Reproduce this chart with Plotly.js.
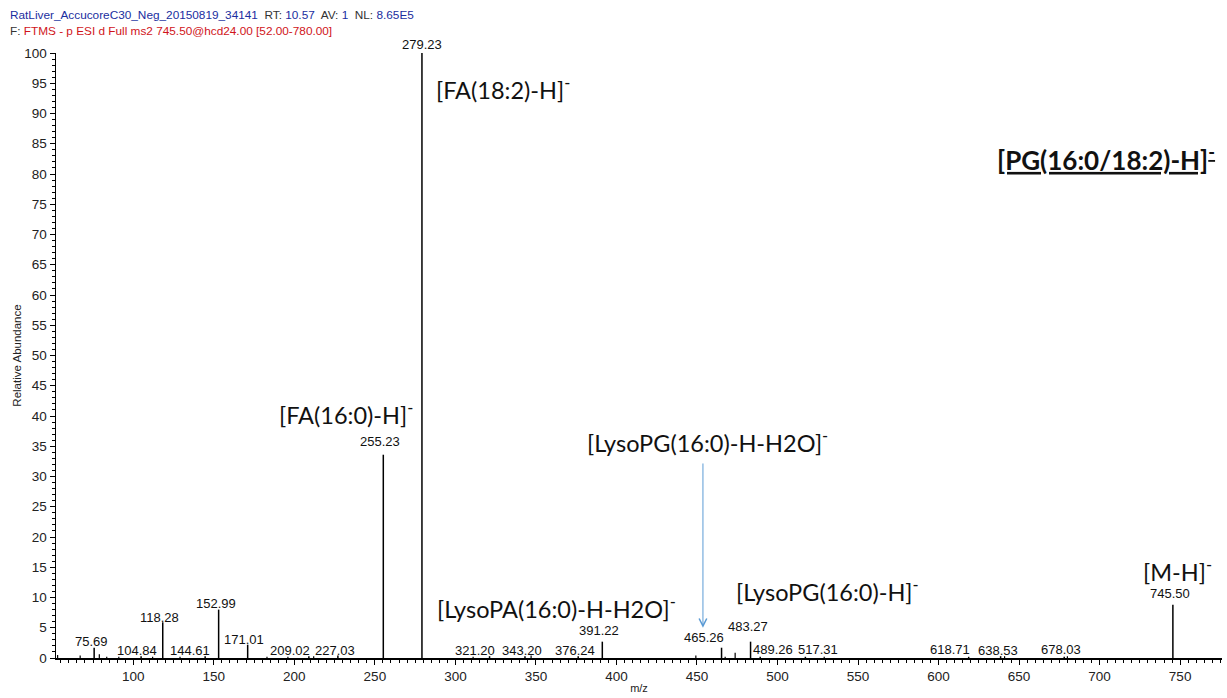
<!DOCTYPE html>
<html>
<head>
<meta charset="utf-8">
<script src="https://cdn.plot.ly/plotly-3.0.1.min.js"></script>
<style>html,body{margin:0;padding:0;background:#fff;}#chart{width:1227px;height:698px;}</style>
</head>
<body>
<div id="chart"></div>
<script>
// Labelled peaks (m/z, relative abundance)
const peakMz = [75.69, 104.84, 118.28, 144.61, 152.99, 171.01, 209.02, 227.03, 255.23, 279.23, 321.20, 343.20, 376.24, 391.22, 465.26, 483.27, 489.26, 517.31, 618.71, 638.53, 678.03, 745.50];
const peakInt = [1.7, 0.3, 5.9, 0.3, 8.0, 2.2, 0.3, 0.4, 33.6, 100, 0.3, 0.3, 0.3, 2.7, 1.7, 2.7, 0.2, 0.2, 0.2, 0.3, 0.2, 8.8];
const peakLabels = ["75.69", "104.84", "118.28", "144.61", "152.99", "171.01", "209.02", "227.03", "255.23", "279.23", "321.20", "343.20", "376.24", "391.22", "465.26", "483.27", "489.26", "517.31", "618.71", "638.53", "678.03", "745.50"];
// Unlabelled minor peaks
const minorMz = [53.0, 67.0, 78.9, 83.5, 91.0, 112.0, 129.0, 183.0, 196.0, 212.0, 311.0, 347.0, 449.3, 467.5, 473.7, 529.0, 641.0, 680.0];
const minorInt = [0.5, 0.4, 0.6, 0.2, 0.2, 0.2, 0.2, 0.2, 0.2, 0.3, 0.2, 0.4, 0.4, 0.2, 0.85, 0.2, 0.3, 0.3];

// Label placement offsets (pixels) as drawn by the instrument software
const labelXShift = [-3, -4, -3, -15, -3, -4, -19, -3, -3, 0, -15, -3, -3, -3, -18, -3, 13, 13, -19, -3, -3, -3];
const labelGap = [6, 6, 5, 6, 6, 5.5, 6, 5, 13, 9, 6, 6, 6, 11, 10, 15, 7, 7, 7, 6, 7, 11];

// Structural annotations
const annText = ["[FA(18:2)-H]<sup>-</sup>", "[FA(16:0)-H]<sup>-</sup>", "[LysoPG(16:0)-H-H2O]<sup>-</sup>", "[LysoPA(16:0)-H-H2O]<sup>-</sup>", "[LysoPG(16:0)-H]<sup>-</sup>", "[M-H]<sup>-</sup>"];
const annMz = [329.5, 232.0, 456.8, 363.0, 531.3, 748.6];
const annY = [94.2, 40.4, 35.8, 8.3, 11.1, 14.4];
const titleLabel = "[PG(16:0/18:2)-H]<sup>-</sup>";
const titleMz = 704.0, titleY = 82.6;
// arrow for LysoPG(16:0)-H-H2O
const arrowMz = 453.7, arrowFrom = 32.4, arrowTo = 5.0;

const headerLine1 = '<span style="color:#1a2ea0">RatLiver_AccucoreC30_Neg_20150819_34141</span><span style="color:#333">  RT: </span><span style="color:#1a2ea0">10.57</span><span style="color:#333">  AV: </span><span style="color:#1a2ea0">1</span><span style="color:#333">  NL: </span><span style="color:#1a2ea0">8.65E5</span>';
const headerLine2 = '<span style="color:#333">F: </span><span style="color:#d0141a">FTMS - p ESI d Full ms2 745.50@hcd24.00 [52.00-780.00]</span>';

function stems(mz, inten) {
  const x = [], y = [];
  mz.forEach((m, i) => { x.push(m, m, null); y.push(0, inten[i], null); });
  return {x, y};
}
const s1 = stems(peakMz, peakInt);
const s2 = stems(minorMz, minorInt);

const traces = [
  {x: s2.x, y: s2.y, type: 'scatter', mode: 'lines', line: {color: '#000', width: 1.2}, hoverinfo: 'skip', showlegend: false},
  {x: s1.x, y: s1.y, type: 'scatter', mode: 'lines', line: {color: '#000', width: 1.5}, hoverinfo: 'skip', showlegend: false}
];

const annotations = [];
peakMz.forEach((m, i) => {
  annotations.push({x: m, y: peakInt[i], xref: 'x', yref: 'y', text: peakLabels[i], showarrow: false,
    xanchor: 'center', yanchor: 'middle', yshift: labelGap[i], xshift: labelXShift[i],
    font: {family: 'Liberation Sans, Arial, sans-serif', size: 13, color: '#111'}});
});
annText.forEach((t, i) => {
  annotations.push({x: annMz[i], y: annY[i], xref: 'x', yref: 'y', text: t, showarrow: false,
    xanchor: 'center', yanchor: 'middle',
    font: {family: 'Lato, Carlito, sans-serif', size: 23.5, color: '#111'}});
});
annotations.push({x: titleMz, y: titleY, xref: 'x', yref: 'y',
  text: '<b><span style="text-decoration:underline">' + titleLabel + '</span></b>', showarrow: false,
  xanchor: 'center', yanchor: 'middle',
  font: {family: 'Lato, Carlito, sans-serif', size: 26, color: '#111'}});
annotations.push({x: arrowMz, y: arrowTo, ax: arrowMz, ay: arrowFrom, xref: 'x', yref: 'y', axref: 'x', ayref: 'y',
  text: '', showarrow: true, arrowhead: 5, arrowsize: 1.5, arrowwidth: 1, arrowcolor: '#5b9bd5'});
annotations.push({x: -0.0412, y: 1.0627, xref: 'paper', yref: 'paper', text: headerLine1, showarrow: false,
  xanchor: 'left', yanchor: 'middle', font: {family: 'Liberation Sans, Arial, sans-serif', size: 11.8}});
annotations.push({x: -0.0412, y: 1.0363, xref: 'paper', yref: 'paper', text: headerLine2, showarrow: false,
  xanchor: 'left', yanchor: 'middle', font: {family: 'Liberation Sans, Arial, sans-serif', size: 11.8}});

const layout = {
  width: 1227, height: 698,
  margin: {l: 56, r: 5, t: 53, b: 40, pad: 0},
  paper_bgcolor: '#fff', plot_bgcolor: '#fff',
  showlegend: false,
  font: {family: 'Liberation Sans, Arial, sans-serif', size: 13.5, color: '#222'},
  xaxis: {
    range: [52, 776], tick0: 0, dtick: 50, ticks: 'outside', ticklen: 5, tickwidth: 1, tickcolor: '#000',
    minor: {dtick: 5, ticks: 'outside', ticklen: 3, tickcolor: '#000', tickwidth: 1, showgrid: false},
    showline: true, linecolor: '#000', linewidth: 1.5, showgrid: false, zeroline: false,
    tickfont: {size: 13.5, color: '#222'},
    title: {text: 'm/z', font: {size: 11, color: '#222'}, standoff: 1}
  },
  yaxis: {
    range: [0, 100], tick0: 0, dtick: 5, ticks: 'outside', ticklen: 5, tickwidth: 1, tickcolor: '#000',
    minor: {dtick: 1, ticks: 'outside', ticklen: 3, tickcolor: '#000', tickwidth: 1, showgrid: false},
    showline: true, linecolor: '#000', linewidth: 1.5, showgrid: false, zeroline: false,
    tickfont: {size: 13.5, color: '#222'},
    title: {text: 'Relative Abundance', font: {size: 11.5, color: '#222'}, standoff: 0}
  },
  annotations: annotations
};

Plotly.newPlot('chart', traces, layout, {staticPlot: true, displayModeBar: false});
</script>
</body>
</html>
